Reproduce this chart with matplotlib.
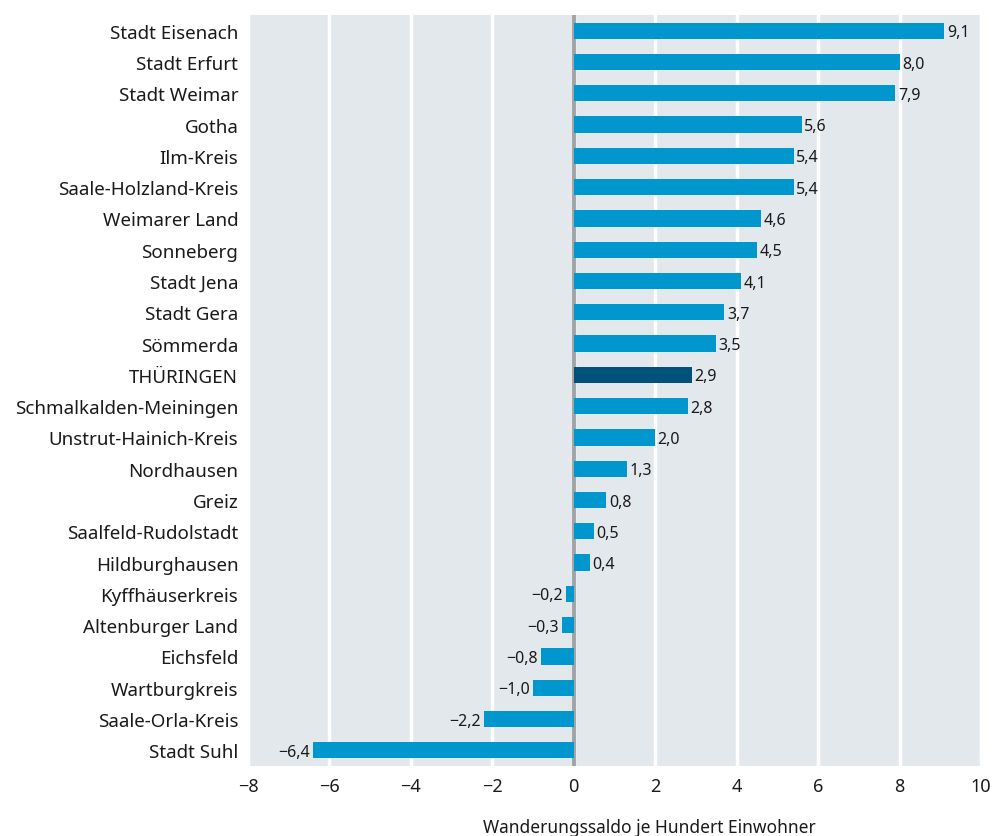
import matplotlib
matplotlib.use("Agg")
import matplotlib.pyplot as plt

categories = ["Stadt Eisenach", "Stadt Erfurt", "Stadt Weimar", "Gotha", "Ilm-Kreis",
              "Saale-Holzland-Kreis", "Weimarer Land", "Sonneberg", "Stadt Jena", "Stadt Gera",
              "Sömmerda", "THÜRINGEN", "Schmalkalden-Meiningen", "Unstrut-Hainich-Kreis",
              "Nordhausen", "Greiz", "Saalfeld-Rudolstadt", "Hildburghausen", "Kyffhäuserkreis",
              "Altenburger Land", "Eichsfeld", "Wartburgkreis", "Saale-Orla-Kreis", "Stadt Suhl"]
values = [9.1, 8.0, 7.9, 5.6, 5.4, 5.4, 4.6, 4.5, 4.1, 3.7, 3.5, 2.9, 2.8, 2.0, 1.3, 0.8,
          0.5, 0.4, -0.2, -0.3, -0.8, -1.0, -2.2, -6.4]
highlight = "THÜRINGEN"
xticks = [-8, -6, -4, -2, 0, 2, 4, 6, 8, 10]
xlabel = "Wanderungssaldo je Hundert Einwohner"

plt.rcParams["font.family"] = ["Noto Sans", "DejaVu Sans"]

def fmt(v):
    s = f"{abs(v):.1f}".replace(".", ",")
    return ("\u2212" + s) if v < 0 else s

fig = plt.figure(figsize=(9.92, 8.37), dpi=100)
ax = fig.add_axes([248/992, 1-767/837, (981-248)/992, (767-16)/837])
ax.set_facecolor("#e3e8ed")
n = len(categories)
ypos = list(range(n))
colors = ["#00527a" if c == highlight else "#0097cf" for c in categories]
ax.barh(ypos, values, height=0.52, color=colors, zorder=3)
for y, v in zip(ypos, values):
    if v >= 0:
        ax.text(v + 0.06, y + 0.05, fmt(v), va="center", ha="left", fontsize=11.5, color="#1a1a1a", zorder=4)
    else:
        ax.text(v - 0.08, y + 0.05, fmt(v), va="center", ha="right", fontsize=11.5, color="#1a1a1a", zorder=4)
ax.set_xlim(-8, 10)
ax.set_ylim(n - 0.5, -0.5)
ax.set_xticks(xticks)
ax.set_xticklabels([("\u2212" + str(abs(t))) if t < 0 else str(t) for t in xticks], fontsize=13, color="#1a1a1a")
ax.set_yticks(ypos)
ax.set_yticklabels(categories, fontsize=13.5, color="#1a1a1a")
ax.tick_params(length=0, pad=8)
ax.tick_params(axis="y", pad=7)
ax.grid(axis="x", color="white", linewidth=2.5, zorder=1)
ax.axvline(0, color="#a0a4a6", linewidth=2.8, zorder=2)
for s in ax.spines.values():
    s.set_visible(False)
fig.text(649/992, 1-828/837, xlabel, ha="center", va="center", fontsize=12.5, color="#1a1a1a")
fig.savefig("out.png", dpi=100)
